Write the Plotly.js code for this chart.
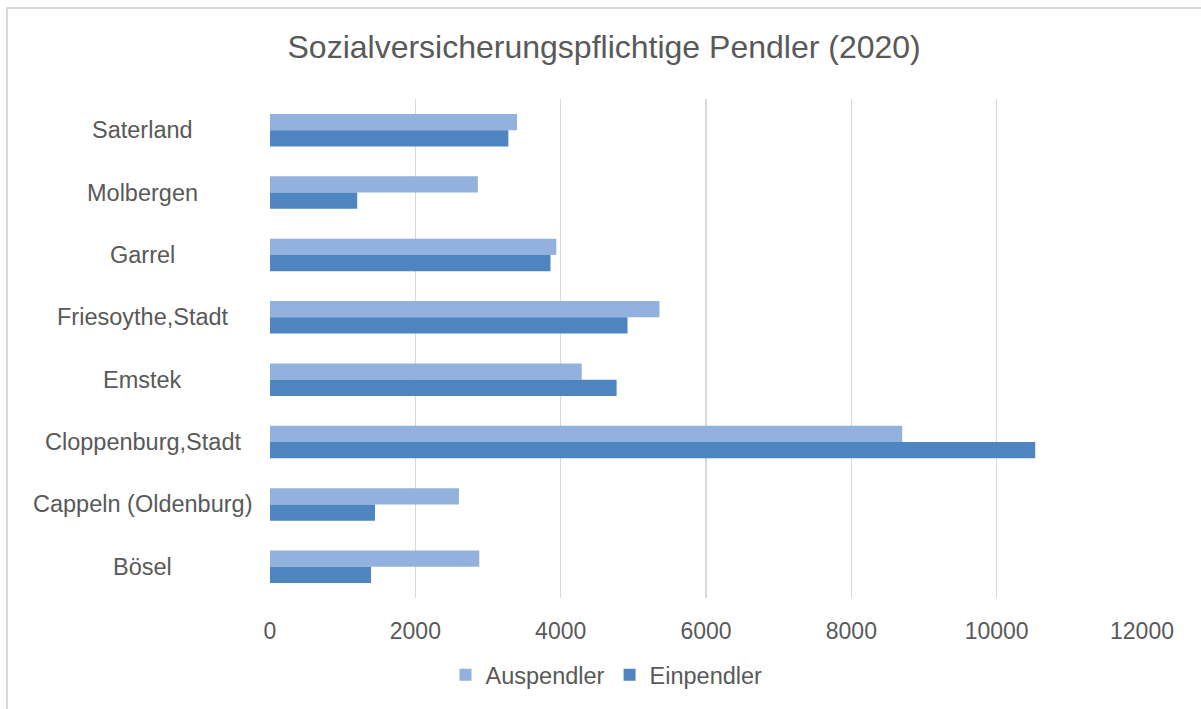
<!DOCTYPE html>
<html>
<head>
<meta charset="utf-8">
<script src="https://cdn.plot.ly/plotly-3.0.1.min.js"></script>
<style>
  html, body { margin: 0; padding: 0; background: #ffffff; }
  #frame { position: absolute; left: 6px; top: 7px; width: 1195px; height: 702px;
           border-top: 2px solid #d9d9d9; border-left: 2px solid #d9d9d9; box-sizing: border-box; }
  #chart { position: absolute; left: 0; top: 0; width: 1201px; height: 709px; }
</style>
</head>
<body>
<div id="frame"></div>
<div id="chart"></div>
<script>
// Categories, top to bottom as shown
const categories = ["Saterland", "Molbergen", "Garrel", "Friesoythe,Stadt", "Emstek",
                    "Cloppenburg,Stadt", "Cappeln (Oldenburg)", "Bösel"];
const auspendler = [3400, 2860, 3940, 5360, 4290, 8700, 2600, 2880];
const einpendler = [3280, 1200, 3860, 4920, 4770, 10530, 1445, 1390];
const xTicks = [0, 2000, 4000, 6000, 8000, 10000, 12000];
const seriesNames = ["Auspendler", "Einpendler"];
const chartTitle = "Sozialversicherungspflichtige Pendler (2020)";

const textColor = "#595959";
const fontFamily = "Liberation Sans, Arial, sans-serif";

const traces = [
  { type: "bar", orientation: "h", name: seriesNames[0], y: categories, x: auspendler,
    marker: { color: "#92B1DC" }, hoverinfo: "x+name" },
  { type: "bar", orientation: "h", name: seriesNames[1], y: categories, x: einpendler,
    marker: { color: "#4E85C1" }, hoverinfo: "x+name" }
];

const annotations = categories.map(c => ({
  xref: "paper", yref: "y", x: -0.146, y: c, text: c, showarrow: false,
  xanchor: "center", yanchor: "middle",
  font: { family: fontFamily, size: 23.5, color: textColor }
}));

const layout = {
  width: 1201, height: 709,
  paper_bgcolor: "rgba(0,0,0,0)", plot_bgcolor: "rgba(0,0,0,0)",
  margin: { l: 270, r: 59, t: 99, b: 111, pad: 0 },
  barmode: "group", bargap: 0.48, bargroupgap: 0,
  title: { text: chartTitle, xref: "container", x: 0.503, xanchor: "center",
           yref: "container", y: 0.934, yanchor: "middle",
           font: { family: fontFamily, size: 32, color: textColor } },
  xaxis: { range: [0, 12000], tickvals: xTicks, ticktext: xTicks.map(String),
           showgrid: true, gridcolor: "#d9d9d9", gridwidth: 1.5,
           zeroline: false, showline: false, ticks: "", ticklabelstandoff: 17,
           tickfont: { family: fontFamily, size: 23, color: textColor }, fixedrange: true },
  yaxis: { type: "category", autorange: "reversed", showticklabels: false, ticks: "",
           showgrid: false, zeroline: false, showline: false, fixedrange: true },
  annotations: annotations,
  showlegend: true,
  legend: { orientation: "h", xref: "container", x: 0.505, xanchor: "center",
            yref: "container", y: 0.048, yanchor: "middle",
            font: { family: fontFamily, size: 23.5, color: textColor },
            itemwidth: 30, traceorder: "normal" }
};

Plotly.newPlot("chart", traces, layout, { displayModeBar: false, staticPlot: true });
</script>
</body>
</html>
